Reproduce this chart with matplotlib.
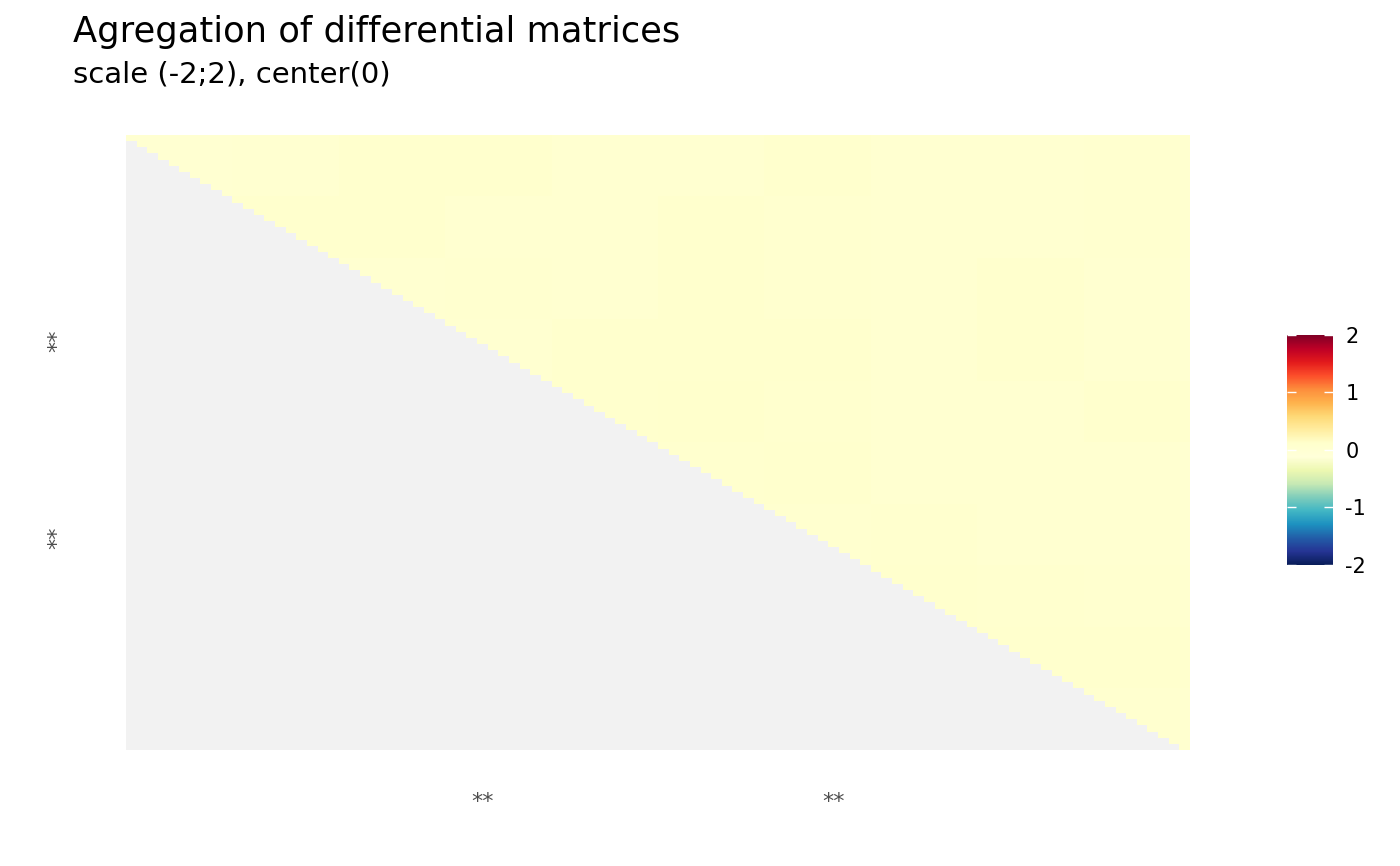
import numpy as np
import matplotlib
matplotlib.use("Agg")
import matplotlib.pyplot as plt
from matplotlib.colors import LinearSegmentedColormap

plt.rcParams["axes.unicode_minus"] = False

# ---- data -------------------------------------------------------------
n_cells = 100            # matrix is 100 x 100, upper triangle (incl. diagonal) filled
block = 10               # values (10x10 cells each)
block_values = [
    [0.02, 0.03, 0.10, 0.09, 0.03, 0.03, 0.08, 0.03, 0.03, 0.05],
    [0.02, 0.10, 0.08, 0.03, 0.03, 0.10, 0.05, 0.03, 0.03, 0.05],
    [0.02, 0.03, 0.03, 0.05, 0.03, 0.10, 0.06, 0.03, 0.08, 0.03],
    [0.02, 0.03, 0.03, 0.03, 0.10, 0.10, 0.08, 0.03, 0.08, 0.03],
    [0.02, 0.03, 0.03, 0.03, 0.10, 0.11, 0.07, 0.03, 0.03, 0.08],
    [0.02, 0.03, 0.03, 0.03, 0.03, 0.07, 0.09, 0.04, 0.03, 0.03],
    [0.02, 0.03, 0.03, 0.03, 0.03, 0.03, 0.06, 0.07, 0.03, 0.03],
    [0.02, 0.03, 0.03, 0.03, 0.03, 0.03, 0.03, 0.08, 0.07, 0.06],
    [0.02, 0.03, 0.03, 0.03, 0.03, 0.03, 0.03, 0.03, 0.09, 0.08],
    [0.02, 0.03, 0.03, 0.03, 0.03, 0.03, 0.03, 0.03, 0.03, 0.06],
]
x_tick_pos = [33, 66]
x_tick_labels = ["**", "**"]
y_tick_pos = [33, 65]
y_tick_labels = ["**", "**"]
scale_limits = (-2, 2)
cbar_ticks = [-2, -1, 0, 1, 2]
title = "Agregation of differential matrices"
subtitle = "scale (-2;2), center(0)"

# ---- build matrix -----------------------------------------------------
vals = np.kron(np.array(block_values), np.ones((block, block)))
rows, cols = np.indices((n_cells, n_cells))
mat = np.ma.masked_where(cols < rows, vals)

ylgnbu = ["#ffffd9", "#edf8b1", "#c7e9b4", "#7fcdbb", "#41b6c4",
          "#1d91c0", "#225ea8", "#253494", "#081d58"]
ylorrd = ["#ffffcc", "#ffeda0", "#fed976", "#feb24c", "#fd8d3c",
          "#fc4e2a", "#e31a1c", "#bd0026", "#800026"]
cmap = LinearSegmentedColormap.from_list("div", ylgnbu[::-1] + ylorrd, N=512)
cmap.set_bad("#F2F2F2")

# ---- figure -----------------------------------------------------------
fig = plt.figure(figsize=(14, 8.66), dpi=100)
ax = fig.add_axes([126 / 1400, 1 - 750 / 866, 1064 / 1400, 615 / 866])
im = ax.imshow(mat, cmap=cmap, vmin=scale_limits[0], vmax=scale_limits[1],
               aspect="auto", interpolation="nearest",
               extent=(0, n_cells, n_cells, 0))
for s in ax.spines.values():
    s.set_visible(False)
ax.set_xticks([p + 0.5 for p in x_tick_pos])
ax.set_xticklabels(x_tick_labels, fontsize=16, color="#4D4D4D")
ax.set_yticks([p + 0.5 for p in y_tick_pos])
ax.set_yticklabels(y_tick_labels, fontsize=16, color="#4D4D4D",
                   rotation=90, va="center")
ax.tick_params(axis="x", length=0, pad=30)
ax.tick_params(axis="y", length=0, pad=42)

# colorbar
cax = fig.add_axes([1287 / 1400, 1 - 565 / 866, 46 / 1400, 230 / 866])
cb = fig.colorbar(im, cax=cax, ticks=cbar_ticks)
cb.outline.set_visible(False)
cax.tick_params(length=0, pad=9, labelsize=15)
for t in cbar_ticks:
    cax.plot([0, 0.2], [t, t], color="white", lw=1, solid_capstyle="butt")
    cax.plot([0.8, 1], [t, t], color="white", lw=1, solid_capstyle="butt")
cax.set_xlim(0, 1)
cax.set_ylim(*scale_limits)

fig.text(73 / 1400, 1 - 42 / 866, title, fontsize=25.4, va="baseline", ha="left")
fig.text(73 / 1400, 1 - 83 / 866, subtitle, fontsize=21, va="baseline", ha="left")

fig.savefig("out.png", dpi=100)
